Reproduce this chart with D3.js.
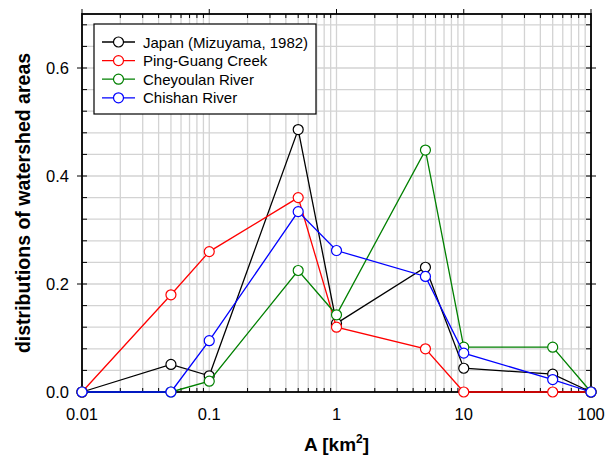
<!DOCTYPE html>
<html>
<head>
<meta charset="utf-8">
<script src="https://cdn.jsdelivr.net/npm/d3@7"></script>
<style>
  body { margin: 0; background: #fff; }
  svg text { font-family: "Liberation Sans", Arial, sans-serif; }
</style>
</head>
<body>
<svg id="chart" width="613" height="460"></svg>
<script>
// watershed area classes (km2)
const areas = [0.01, 0.05, 0.1, 0.5, 1, 5, 10, 50, 100];

const japan     = [0, 0.051, 0.030, 0.486, 0.127, 0.231, 0.044, 0.033, 0];
const pingGuang = [0, 0.180, 0.260, 0.360, 0.120, 0.080, 0, 0, 0];
const cheyoulan = [0, 0, 0.020, 0.225, 0.143, 0.448, 0.083, 0.083, 0];
const chishan   = [0, 0, 0.095, 0.334, 0.262, 0.214, 0.072, 0.023, 0];

const seriesNames = ["Japan (Mizuyama, 1982)", "Ping-Guang Creek", "Cheyoulan River", "Chishan River"];
const seriesColors = ["#000000", "#ff0000", "#008000", "#0000ff"];

const xTicks = [0.01, 0.1, 1, 10, 100];
const yTicks = [0, 0.2, 0.4, 0.6];

const series = [japan, pingGuang, cheyoulan, chishan];

const svg = d3.select("#chart");
const pl = 82, pr = 591, pt = 14, pb = 392;

const x = d3.scaleLog().domain([0.01, 100]).range([pl, pr]);
const y = d3.scaleLinear().domain([0, 0.7]).range([pb, pt]);

// minor log values for grid
const xMinor = [];
[0.01, 0.1, 1, 10].forEach(d => { for (let k = 2; k <= 9; k++) xMinor.push(d * k); });
const yMinor = d3.range(0.04, 0.7, 0.04);

const grid = svg.append("g");
grid.selectAll(".gx").data(xMinor.concat(xTicks)).join("line")
  .attr("x1", d => x(d)).attr("x2", d => x(d))
  .attr("y1", pt).attr("y2", pb)
  .attr("stroke", "#d3d3d3").attr("stroke-width", 1.3);
grid.selectAll(".gy").data(yMinor).join("line")
  .attr("x1", pl).attr("x2", pr)
  .attr("y1", d => y(d)).attr("y2", d => y(d))
  .attr("stroke", "#d3d3d3").attr("stroke-width", 1.3);

// ticks: major outside, minor inside
const tk = svg.append("g").attr("stroke", "#000").attr("stroke-width", 1);
yMinor.forEach(v => {
  tk.append("line").attr("x1", pl).attr("x2", pl + 5).attr("y1", y(v)).attr("y2", y(v));
  tk.append("line").attr("x1", pr).attr("x2", pr - 5).attr("y1", y(v)).attr("y2", y(v));
});
yTicks.forEach(v => {
  tk.append("line").attr("x1", pl).attr("x2", pl - 5).attr("y1", y(v)).attr("y2", y(v));
  tk.append("line").attr("x1", pr).attr("x2", pr + 5).attr("y1", y(v)).attr("y2", y(v));
});
xMinor.forEach(v => {
  tk.append("line").attr("x1", x(v)).attr("x2", x(v)).attr("y1", pt).attr("y2", pt + 4);
  tk.append("line").attr("x1", x(v)).attr("x2", x(v)).attr("y1", pb).attr("y2", pb - 4);
});
xTicks.forEach(v => {
  tk.append("line").attr("x1", x(v)).attr("x2", x(v)).attr("y1", pt).attr("y2", pt - 5);
});

// frame
svg.append("rect").attr("x", pl).attr("y", pt)
  .attr("width", pr - pl).attr("height", pb - pt)
  .attr("fill", "none").attr("stroke", "#000").attr("stroke-width", 1.8);

// tick labels
svg.selectAll(".xl").data(xTicks).join("text")
  .attr("x", d => x(d)).attr("y", 420)
  .attr("text-anchor", "middle").attr("font-size", 16.5)
  .text(d => d3.format("~g")(d));
svg.selectAll(".yl").data(yTicks).join("text")
  .attr("x", 69).attr("y", d => y(d) + 6)
  .attr("text-anchor", "end").attr("font-size", 16.5)
  .text(d => d3.format(".1f")(d));

// axis titles
const xt = svg.append("text").attr("x", (pl + pr) / 2).attr("y", 451)
  .attr("text-anchor", "middle").attr("font-size", 19).attr("font-weight", "bold");
xt.append("tspan").text("A [km");
xt.append("tspan").attr("font-size", 12).attr("dy", -8).text("2");
xt.append("tspan").attr("dy", 8).text("]");

svg.append("text").attr("transform", "translate(30,203) rotate(-90)")
  .attr("text-anchor", "middle").attr("font-size", 19.5).attr("font-weight", "bold")
  .text("distributions of watershed areas");

// series
const line = d3.line().x(d => x(d[0])).y(d => y(d[1]));
series.forEach((vals, i) => {
  const pts = areas.map((a, j) => [a, vals[j]]);
  const g = svg.append("g");
  g.append("path").datum(pts).attr("d", line)
    .attr("fill", "none").attr("stroke", seriesColors[i]).attr("stroke-width", 1.3);
  g.selectAll("circle").data(pts).join("circle")
    .attr("cx", d => x(d[0])).attr("cy", d => y(d[1])).attr("r", 5)
    .attr("fill", "#fff").attr("stroke", seriesColors[i]).attr("stroke-width", 1.2);
});

// legend
const lg = svg.append("g");
lg.append("rect").attr("x", 94).attr("y", 24).attr("width", 222).attr("height", 90)
  .attr("fill", "#fff").attr("stroke", "#000").attr("stroke-width", 1.2);
seriesNames.forEach((n, i) => {
  const yy = 42 + i * 18.6;
  lg.append("line").attr("x1", 102).attr("x2", 135).attr("y1", yy).attr("y2", yy)
    .attr("stroke", seriesColors[i]).attr("stroke-width", 1.3);
  lg.append("circle").attr("cx", 118.5).attr("cy", yy).attr("r", 5)
    .attr("fill", "#fff").attr("stroke", seriesColors[i]).attr("stroke-width", 1.2);
  lg.append("text").attr("x", 143).attr("y", yy + 5.5).attr("font-size", 15).text(n);
});
</script>
</body>
</html>
